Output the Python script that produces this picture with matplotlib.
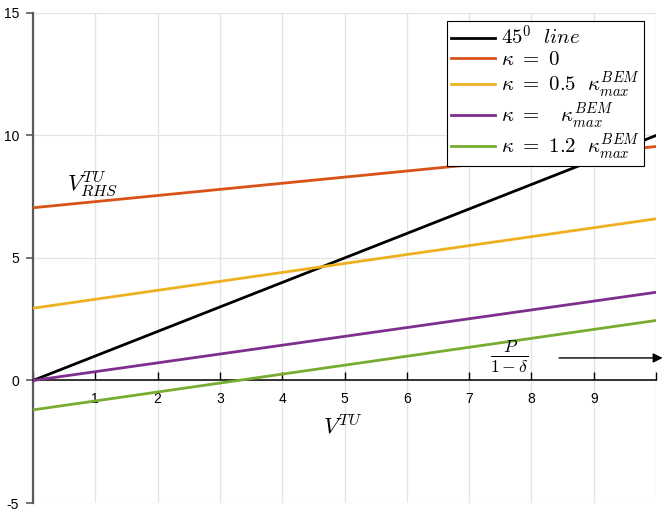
import matplotlib
matplotlib.use("Agg")
import matplotlib.pyplot as plt

plt.rcParams['font.family'] = ['Liberation Sans', 'DejaVu Sans']
plt.rcParams['mathtext.fontset'] = 'cm'
plt.rcParams['axes.unicode_minus'] = False

# Значения прямых на концах отрезка V^TU = 0 .. 10
v_tu = [0, 10]
line_45 = [0, 10]
kappa_0 = [7.05, 9.55]
kappa_05 = [2.95, 6.6]
kappa_1 = [0.0, 3.6]
kappa_12 = [-1.2, 2.45]

labels = [r'$45^0\ \ line$',
          r'$\kappa\ =\ 0$',
          r'$\kappa\ =\ 0.5\ \ \kappa_{max}^{BEM}$',
          r'$\kappa\ =\ \ \ \kappa_{max}^{BEM}$',
          r'$\kappa\ =\ 1.2\ \ \kappa_{max}^{BEM}$']
colors = ['black', '#D95319', '#EDB120', '#7E2F8E', '#77AC30']

fig = plt.figure(figsize=(6.62, 5.15), dpi=100)
ax = fig.add_axes([0.0498, 0.0233, 0.9412, 0.9515])

for ys, c, lab in zip([line_45, kappa_0, kappa_05, kappa_1, kappa_12], colors, labels):
    ax.plot(v_tu, ys, color=c, lw=2.0, label=lab, zorder=3)

ax.set_xlim(0, 10)
ax.set_ylim(-5, 15)
ax.set_xticks(range(0, 11))
ax.set_xticklabels([''] + [str(i) for i in range(1, 10)] + [''])
ax.set_yticks([-5, 0, 5, 10, 15])
ax.grid(True, color='#e3e3e3', lw=0.9)
ax.set_axisbelow(True)

# оси в стиле MATLAB: ось x проходит через ноль
ax.spines['top'].set_visible(False)
ax.spines['right'].set_visible(False)
ax.spines['bottom'].set_position(('data', 0))
ax.spines['bottom'].set_linewidth(1.1)
ax.spines['left'].set_color('#5a5a5a')
ax.spines['left'].set_linewidth(1.6)
ax.tick_params(axis='x', direction='in', length=6, width=1, pad=8, labelsize=10)
ax.tick_params(axis='y', direction='out', length=5, width=1.2, color='#5a5a5a', pad=5, labelsize=10)

ax.text(0.55, 8.0, r'$V_{RHS}^{TU}$', fontsize=16.5, ha='left', va='center')
ax.text(4.65, -1.9, r'$V^{TU}$', fontsize=16.5, ha='left', va='center')
ax.text(7.65, 0.95, r'$\frac{P}{1-\delta}$', fontsize=18, ha='center', va='center')
ax.annotate('', xy=(10.15, 0.92), xytext=(8.4, 0.92),
            arrowprops=dict(arrowstyle='-|>', color='black', lw=1.0, mutation_scale=14),
            annotation_clip=False)

leg = ax.legend(loc='upper right', bbox_to_anchor=(0.981, 0.984), fontsize=15,
                frameon=True, fancybox=False, framealpha=1, edgecolor='black',
                handlelength=2.1, handletextpad=0.3, labelspacing=0.06,
                borderpad=0.2, borderaxespad=0)
leg.get_frame().set_linewidth(0.8)

fig.savefig('out.png', dpi=100)
